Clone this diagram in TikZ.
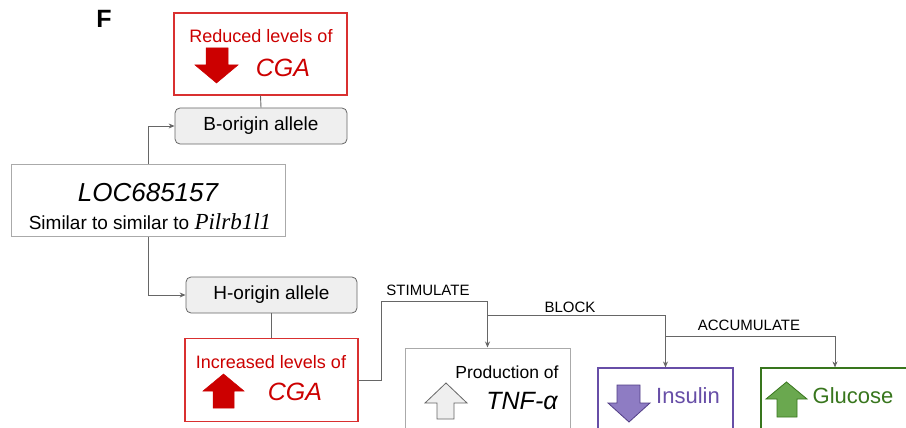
\documentclass[tikz,border=0pt]{standalone}
\usepackage{fontspec}
\setmainfont{Liberation Sans}
\newfontfamily\serifit{Liberation Serif}
\usetikzlibrary{arrows.meta}
\definecolor{cred}{HTML}{CC0000}
\definecolor{credbox}{HTML}{D93030}
\definecolor{cgray}{HTML}{666666}
\definecolor{cbox}{HTML}{AAAAAA}
\definecolor{cfill}{HTML}{EFEFEF}
\definecolor{cpur}{HTML}{674EA7}
\definecolor{cpurfill}{HTML}{8E7CC3}
\definecolor{cgreen}{HTML}{38761D}
\definecolor{cgreenfill}{HTML}{6AA84F}
\tikzset{
  redbox/.style={draw=credbox, line width=1.1pt, fill=white, inner sep=0},
  allelebox/.style={draw=cgray, line width=0.8pt, fill=cfill, rounded corners=5pt, inner sep=0, font=\fontsize{19}{22}\selectfont},
  graybox/.style={draw=cbox, line width=1pt, fill=white, inner sep=0},
  conn/.style={draw=cgray, line width=0.9pt},
  arr/.style={conn, -{Stealth[length=6pt,width=5pt]}},
  lbl/.style={inner sep=0, font=\fontsize{15}{18}\selectfont},
  txt/.style={inner sep=0},
}
\begin{document}
\begin{tikzpicture}[x=1pt,y=-1pt]
\useasboundingbox (0,0) rectangle (906,428);
\clip (0,0) rectangle (906,428);
% title
\node[txt, font=\fontsize{25}{28}\selectfont\bfseries] (F) at (104,19) {F};
% boxes
\node[redbox, minimum width=173pt, minimum height=82pt] (redtop) at (260.5,54) {};
\node[allelebox, minimum width=172pt, minimum height=36pt] (bbox) at (261,126) {B-origin allele};
\node[graybox, minimum width=274pt, minimum height=72pt] (loc) at (148,200) {};
\node[allelebox, minimum width=171pt, minimum height=36pt] (hbox) at (271.5,295) {H-origin allele};
\node[redbox, minimum width=173pt, minimum height=83pt] (redbot) at (271.5,380) {};
\node[graybox, minimum width=165pt, minimum height=92pt] (tnf) at (487.5,394) {};
\node[draw=cpur, line width=1.1pt, fill=white, minimum width=135pt, minimum height=72pt, inner sep=0] (ins) at (665.5,404) {};
\node[draw=cgreen, line width=1.1pt, fill=white, minimum width=148pt, minimum height=72pt, inner sep=0] (glu) at (835,404) {};
% texts in boxes
\node[txt, text=cred, font=\fontsize{18}{21}\selectfont] (t1) at (261,36) {Reduced levels of};
\node[txt, text=cred, font=\fontsize{25}{28}\selectfont\itshape] (t2) at (283,68) {CGA};
\node[txt, font=\fontsize{26}{30}\selectfont\itshape] (t3) at (148,193) {LOC685157};
\node[txt, font=\fontsize{19}{22}\selectfont] (t4) at (150,222) {Similar to similar to {\serifit\itshape\fontsize{23}{26}\selectfont Pilrb1l1}};
\node[txt, text=cred, font=\fontsize{18}{21}\selectfont] (t5) at (271,362) {Increased levels of};
\node[txt, text=cred, font=\fontsize{25}{28}\selectfont\itshape] (t6) at (295,392) {CGA};
\node[txt, font=\fontsize{17.5}{21}\selectfont] (t7) at (507,372) {Production of};
\node[txt, font=\fontsize{25}{28}\selectfont\itshape] (t8) at (522,401) {TNF-α};
\node[txt, text=cpur, font=\fontsize{22}{26}\selectfont] (t9) at (688,396) {Insulin};
\node[txt, text=cgreen, font=\fontsize{22}{26}\selectfont] (t10) at (853,396) {Glucose};
% block arrows
\draw[fill=cred, draw=cred, line width=0.5pt] (206,48) -- (228,48) -- (228,65) -- (238,65) -- (216.5,83) -- (195,65) -- (206,65) -- cycle;
\draw[fill=cred, draw=cred, line width=0.5pt] (213,408) -- (234,408) -- (234,391) -- (244,391) -- (223.5,374) -- (203,391) -- (213,391) -- cycle;
\draw[fill=cfill, draw=cgray, line width=0.8pt] (437,419) -- (454,419) -- (454,403) -- (467,403) -- (446,383) -- (425,403) -- (437,403) -- cycle;
\draw[fill=cpurfill, draw=cpur!80!black, line width=0.8pt] (617,385) -- (640,385) -- (640,403) -- (650,403) -- (629,422) -- (608,403) -- (617,403) -- cycle;
\draw[fill=cgreenfill, draw=cgreen, line width=0.8pt] (777,417) -- (797,417) -- (797,399) -- (807,399) -- (786.5,382) -- (766,399) -- (777,399) -- cycle;
% connectors
\draw[conn] (redtop.south) -- (bbox.north);
\draw[arr] (loc.north) |- (bbox.west);
\draw[arr] (loc.south) |- (hbox.west);
\draw[conn] (hbox.south) -- (redbot.north);
\coordinate (stimtop) at ([yshift=46pt]tnf.north);
\coordinate (blockstart) at ([yshift=32pt]tnf.north);
\coordinate (accstart) at ([yshift=31pt]ins.north);
\draw[arr] (redbot.east) -- ++(23,0) |- (stimtop) -- (tnf.north);
\draw[arr] (blockstart) -| (ins.north);
\draw[arr] (accstart) -| (glu.north);
% connector labels
\node[lbl] (l1) at (428,290) {STIMULATE};
\node[lbl] (l2) at (570,307) {BLOCK};
\node[lbl] (l3) at (749,325) {ACCUMULATE};
\end{tikzpicture}
\end{document}
